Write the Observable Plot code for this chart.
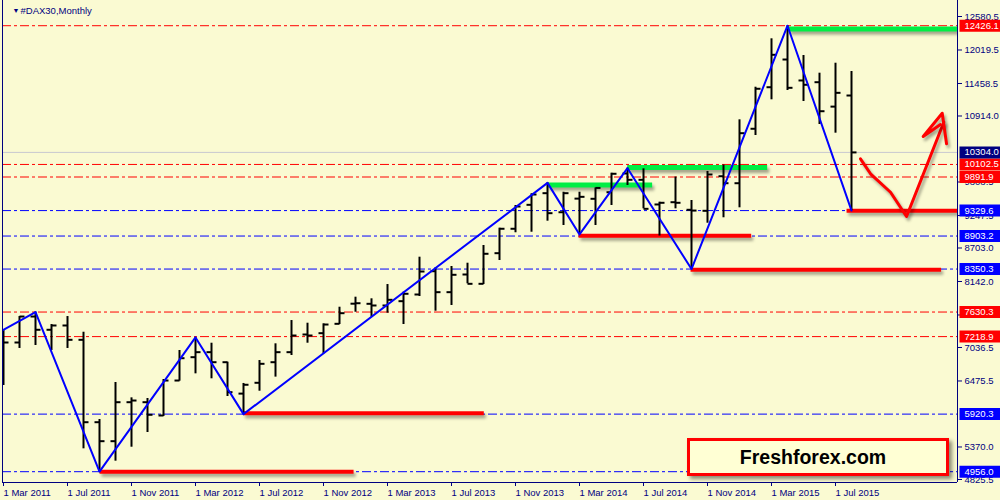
<!DOCTYPE html>
<html><head><meta charset="utf-8">
<script src="https://cdn.jsdelivr.net/npm/d3@7"></script>
<script src="https://cdn.jsdelivr.net/npm/@observablehq/plot@0.6"></script>
<style>
html,body{margin:0;padding:0;background:#FAFAD2;}
#wrap{position:relative;width:1000px;height:500px;overflow:hidden;background:#FAFAD2;}
#logo{position:absolute;left:687px;top:438px;width:256px;height:32px;border:3px solid #ff0000;background:#FFFFD4;box-shadow:3px 3px 4px rgba(0,0,0,0.45);font:bold 19.5px "Liberation Sans",Arial,sans-serif;color:#000;text-align:center;line-height:32px;text-indent:-10px;}
</style></head><body>
<div id="wrap"><div id="chart"></div><div id="logo">Freshforex.com</div></div>
<script>
const navy = "#000080", red = "#ff0000", blue = "#0000ff", green = "#00ee44";

// x-axis tick labels (every 4th monthly bar, first bar = Mar 2011)
const tickLabels = ["1 Mar 2011","1 Jul 2011","1 Nov 2011","1 Mar 2012","1 Jul 2012","1 Nov 2012","1 Mar 2013","1 Jul 2013","1 Nov 2013","1 Mar 2014","1 Jul 2014","1 Nov 2014","1 Mar 2015","1 Jul 2015"];

// Monthly OHLC, Mar 2011 .. Aug 2015
const barOpen  = [7270,7120,7555,7333,7405,7165,5785,5467,6120,6120,5897,6483,6874,6958,6790,6264,6445,6790,6958,7254,7276,7433,7770,7768,7740,7812,7924,8314,7963,8259,8103,8616,9025,9426,9621,9302,9530,9527,9637,9951,9845,9432,9470,9343,9326,9905,9788,10700,11396,11860,11509,11480,11071,11257];
const barHigh  = [7321,7555,7630.3,7421,7555,7292,5830,6450,6193,6182,6500,6986,7205,7108,6790,6434,6818,7098,7488,7443,7433,7711,7879,7852,8091,7963,8549,8371,8393,8448,8745,9035,9415,9611,9794,9637,9637,9709,9956,10040,10029,9470,9891.9,9499,9985,10093,10850,11396,12207,12426.1,11927,11631,11798,11659];
const barLow   = [6400,7020,7070,6986,7020,5339,4956.0,5132,5366,5612,5881,6472,6595,6512,6215,5920.3,6304,6540,6902,7108,6931,7421,7627,7543,7611,7421,7890,7644,7740,8103,8091,8493,8958,8967,9152,9080,8930,9080,9415,9750,9359,8903.2,9359,8350.3,9118,9209,9376,10587,11185,11341,11157,10771,10626,9329.6];
const barClose = [7120,7555,7333,7405,7165,5785,5467,6120,6148,5909,6483,6857,6958,6790,6288,6412,6763,6958,7237,7237,7421,7611,7778,7740,7835,7936,8309,7963,8254,8103,8606,9025,9398,9599,9286,9621,9560,9709,9946,9845,9359,9460,9460,9330,9934,9788,10626,11370,11939,11386,11437,10994,11302,10304.0];

// ZigZag pivots (bar index, price)
const zigBar   = [-2, 2, 6, 12, 15, 34, 36, 39, 43, 49, 53];
const zigPrice = [7036, 7630.3, 4956.0, 7205, 5920.3, 9794, 8930, 10040, 8350.3, 12426.1, 9329.6];

// Horizontal levels
const redLevels  = [12426.1, 10102.5, 9891.9, 7630.3, 7218.9];
const blueLevels = [9329.6, 8903.2, 8350.3, 5920.3, 4956.0];
const bidPrice = 10304.0;

// Right axis ticks (those fully hidden by level boxes are omitted)
const yTicks = [12580.5, 12019.5, 11458.5, 10914.0, 9808.5, 9247.5, 8703.0, 8142.0, 7581.0, 7036.5, 6475.5, 5370.0, 4825.5];

// Hand-drawn support (red) / resistance (green) segments
const redFrom  = [6, 14.98, 35.94, 42.94, 52.69];
const redTo    = [21.88, 30.02, 46.73, 58.6, 60];
const redPrice = [4954, 5935, 8910, 8340, 9326];
const greenFrom  = [33.98, 38.98, 49.06];
const greenTo    = [40.54, 47.73, 60];
const greenPrice = [9760, 10050, 12372];

// Hand-drawn forecast arrow
const arrowBar   = [53.56, 54.19, 55.44, 56.44, 58.77];
const arrowPrice = [10197, 9946, 9637, 9230, 10810];
const headBar    = [58.94, 58.67, 57.48, 58.56];
const headPrice  = [10448, 10961, 10570, 10771];

const xDomain = [-0.0625, 59.625];
const yDomain = [4775.0, 12848.5];

const bars = barOpen.map((o, i) => ({i, o, h: barHigh[i], l: barLow[i], c: barClose[i]}));
const zig = zigBar.map((b, k) => ({i: b, p: zigPrice[k]}));
const redSegs = redFrom.map((f, k) => ({f, t: redTo[k], p: redPrice[k]}));
const greenSegs = greenFrom.map((f, k) => ({f, t: greenTo[k], p: greenPrice[k]}));
const arrow = arrowBar.map((b, k) => ({i: b, p: arrowPrice[k]}));
const head = headBar.map((b, k) => ({i: b, p: headPrice[k]}));
const allLabels = [...redLevels, ...blueLevels, bidPrice];

const leftTick = {draw(ctx) { ctx.moveTo(-5, 0); ctx.lineTo(0, 0); }};
const rightTick = {draw(ctx) { ctx.moveTo(0, 0); ctx.lineTo(5, 0); }};
const labelBox = {draw(ctx) { ctx.rect(2, -6, 43, 12); }};
const dashDot = "9,3,3,3";
const shadow = "drop-shadow(2px 3px 1.5px rgba(0,0,0,0.35))";

const plot = Plot.plot({
  width: 1000, height: 500,
  marginTop: 0, marginBottom: 18, marginLeft: 2, marginRight: 43,
  style: {background: "transparent", fontFamily: "Liberation Sans, Arial, sans-serif", fontSize: "9.5px", color: navy},
  x: {type: "linear", domain: xDomain, axis: null},
  y: {type: "linear", domain: yDomain, axis: null},
  marks: [
    Plot.ruleY(redLevels, {stroke: red, strokeDasharray: dashDot}),
    Plot.ruleY(blueLevels, {stroke: blue, strokeDasharray: dashDot}),
    Plot.ruleY([bidPrice], {stroke: "#c8c8d0"}),
    Plot.link(redSegs, {x1: "f", x2: "t", y1: "p", y2: "p", stroke: red, strokeWidth: 4, clip: true, imageFilter: shadow}),
    Plot.link(greenSegs, {x1: "f", x2: "t", y1: "p", y2: "p", stroke: green, strokeWidth: 5, clip: true, imageFilter: shadow}),
    Plot.ruleX(bars, {x: "i", y1: "l", y2: "h", stroke: "#000", strokeWidth: 2, clip: true}),
    Plot.dot(bars, {x: "i", y: "o", symbol: leftTick, stroke: "#000", strokeWidth: 2, fill: "none", clip: true}),
    Plot.dot(bars, {x: "i", y: "c", symbol: rightTick, stroke: "#000", strokeWidth: 2, fill: "none", clip: true}),
    Plot.line(zig, {x: "i", y: "p", stroke: blue, strokeWidth: 2, clip: true}),
    Plot.line(arrow, {x: "i", y: "p", stroke: red, strokeWidth: 3, strokeLinejoin: "round", strokeLinecap: "round", imageFilter: shadow}),
    Plot.line(head, {x: "i", y: "p", stroke: red, strokeWidth: 3, strokeLinejoin: "round", strokeLinecap: "round", imageFilter: shadow}),
    Plot.ruleY([yDomain[0]], {stroke: navy}),
    Plot.ruleX(xDomain, {stroke: navy}),
    Plot.axisX({ticks: tickLabels.map((_, k) => k * 4), tickFormat: d => tickLabels[d / 4], tickSize: 4, tickPadding: 3, textAnchor: "start", stroke: navy, fill: navy}),
    Plot.axisY({anchor: "right", ticks: yTicks, tickFormat: d => d.toFixed(1), tickSize: 4, tickPadding: 3, stroke: navy, fill: navy}),
    // coloured boxes behind the level labels
    Plot.dot(redLevels, {y: d => d, frameAnchor: "right", symbol: labelBox, fill: red, stroke: "none"}),
    Plot.dot(blueLevels, {y: d => d, frameAnchor: "right", symbol: labelBox, fill: blue, stroke: "none"}),
    Plot.dot([bidPrice], {y: d => d, frameAnchor: "right", symbol: labelBox, fill: navy, stroke: "none"}),
    Plot.text(allLabels, {y: d => d, text: d => d.toFixed(1), frameAnchor: "right", dx: 7, textAnchor: "start", fill: "white"}),
    Plot.text(["#DAX30,Monthly"], {text: d => d, frameAnchor: "top-left", dx: 18, dy: 10, lineAnchor: "middle", textAnchor: "start", fill: navy}),
    Plot.text(["\u25BC"], {text: d => d, frameAnchor: "top-left", dx: 10, dy: 10, lineAnchor: "middle", fontSize: 7, fill: navy})
  ]
});

document.getElementById("chart").appendChild(plot);
</script></body></html>
